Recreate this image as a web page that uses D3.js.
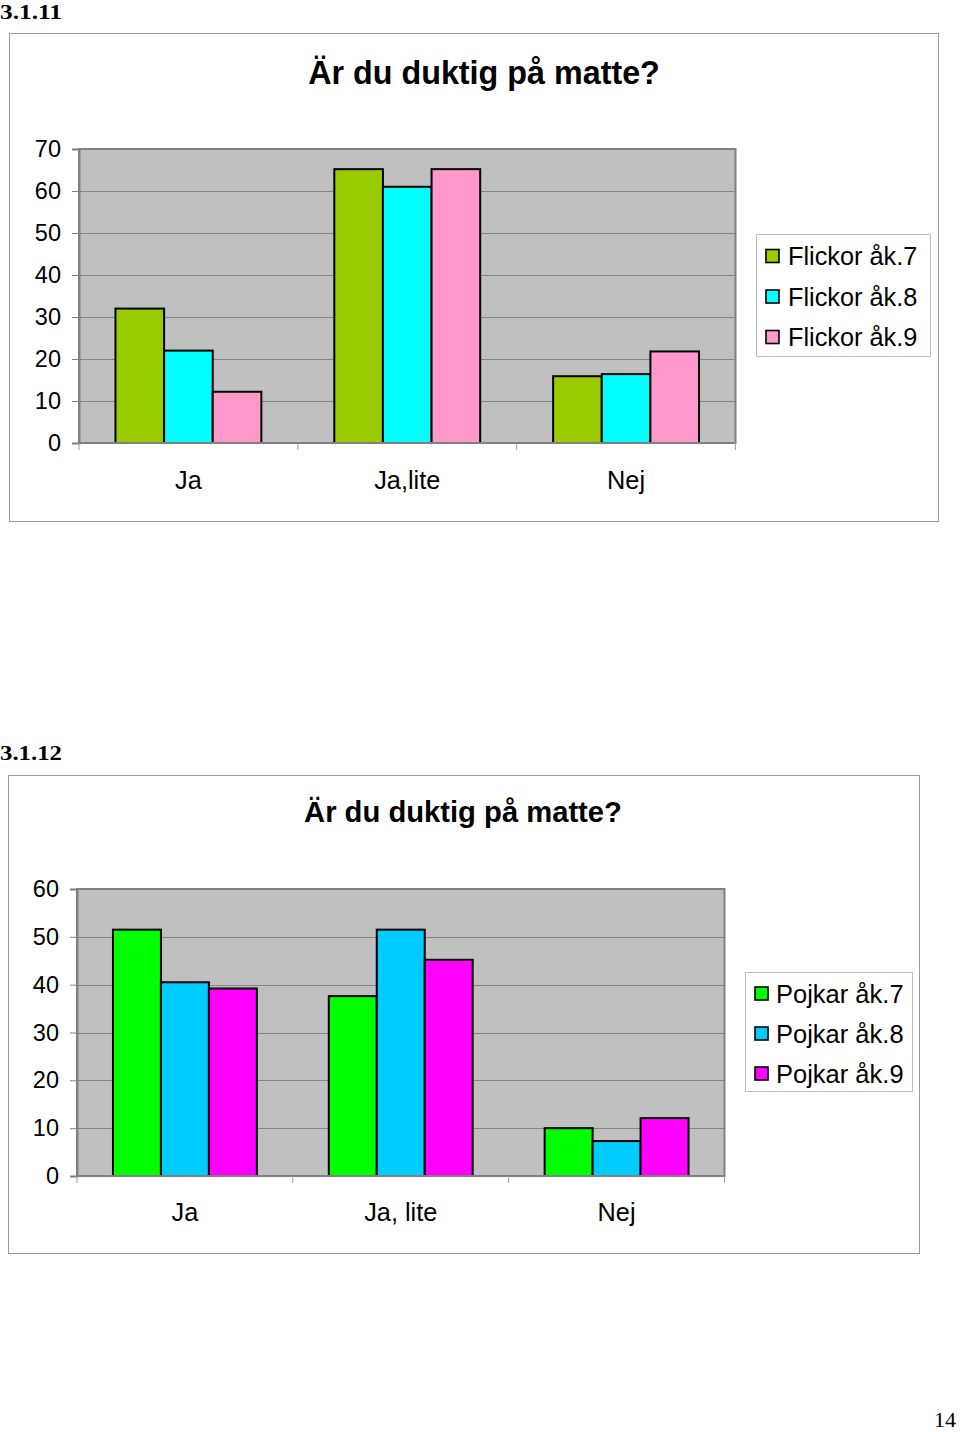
<!DOCTYPE html>
<html>
<head>
<meta charset="utf-8">
<script src="https://cdn.jsdelivr.net/npm/d3@7"></script>
<style>
  html, body { margin: 0; padding: 0; background: #fff; }
  svg { display: block; }
</style>
</head>
<body>
<svg id="page" width="960" height="1432"></svg>
<script>
// ---------- DATA ----------
const title = "Är du duktig på matte?";

const categories1 = ["Ja", "Ja,lite", "Nej"];
const series1Names = ["Flickor åk.7", "Flickor åk.8", "Flickor åk.9"];
const flickorAk7 = [32, 65.2, 15.9];
const flickorAk8 = [22, 61, 16.4];
const flickorAk9 = [12.2, 65.2, 21.8];
const yTicks1 = [0, 10, 20, 30, 40, 50, 60, 70];

const categories2 = ["Ja", "Ja, lite", "Nej"];
const series2Names = ["Pojkar åk.7", "Pojkar åk.8", "Pojkar åk.9"];
const pojkarAk7 = [51.5, 37.6, 10.0];
const pojkarAk8 = [40.5, 51.5, 7.3];
const pojkarAk9 = [39.2, 45.2, 12.1];
const yTicks2 = [0, 10, 20, 30, 40, 50, 60];

// ---------- DRAW ----------
const svg = d3.select("#page");

function drawChart(o) {
  const g = svg.append("g");
  // outer chart frame
  g.append("rect")
    .attr("x", o.box[0] + 0.5).attr("y", o.box[1] + 0.5)
    .attr("width", o.box[2] - o.box[0]).attr("height", o.box[3] - o.box[1])
    .attr("fill", "#fff").attr("stroke", "#9a9a9a").attr("stroke-width", 1);

  // title
  g.append("text")
    .attr("x", o.titleX).attr("y", o.titleY)
    .attr("text-anchor", "middle")
    .attr("font-family", "Liberation Sans, Arial, sans-serif")
    .attr("font-weight", "bold")
    .attr("font-size", o.titleSize)
    .attr("fill", "#000")
    .text(title);

  const y = d3.scaleLinear().domain([0, o.yMax]).range([o.plot[3], o.plot[1]]);
  const x = d3.scaleBand().domain(o.categories).range([o.plot[0], o.plot[2]]).padding(0);
  const bw = x.bandwidth();
  const xs = d3.scaleBand().domain(d3.range(o.series.length)).range([bw / 6, bw * 5 / 6]).padding(0);

  // plot background
  g.append("rect")
    .attr("x", o.plot[0]).attr("y", o.plot[1])
    .attr("width", o.plot[2] - o.plot[0]).attr("height", o.plot[3] - o.plot[1])
    .attr("fill", "#c0c0c0");

  // gridlines
  g.append("g").selectAll("line").data(o.yTicks.filter(t => t > 0 && t < o.yMax)).join("line")
    .attr("x1", o.plot[0]).attr("x2", o.plot[2])
    .attr("y1", d => Math.round(y(d)) + 0.5).attr("y2", d => Math.round(y(d)) + 0.5)
    .attr("stroke", "#858585").attr("stroke-width", 1);

  // plot border
  g.append("rect")
    .attr("x", o.plot[0]).attr("y", o.plot[1])
    .attr("width", o.plot[2] - o.plot[0]).attr("height", o.plot[3] - o.plot[1])
    .attr("fill", "none").attr("stroke", "#808080").attr("stroke-width", 2);

  // bars
  o.series.forEach((vals, si) => {
    g.append("g").selectAll("rect").data(vals).join("rect")
      .attr("x", (d, i) => x(o.categories[i]) + xs(si))
      .attr("y", d => y(d))
      .attr("width", xs.bandwidth())
      .attr("height", d => y(0) - y(d))
      .attr("fill", o.colors[si])
      .attr("stroke", "#000").attr("stroke-width", 2);
  });

  // y axis
  const yAxis = d3.axisLeft(y).tickValues(o.yTicks).tickSize(7).tickPadding(11).tickFormat(d3.format("d"));
  const ya = g.append("g").attr("transform", `translate(${o.plot[0]},0)`).call(yAxis);
  ya.select(".domain").attr("stroke", "#808080").attr("stroke-width", 2);
  ya.selectAll(".tick line").attr("stroke", "#808080");
  ya.selectAll(".tick text")
    .attr("font-family", "Liberation Sans, Arial, sans-serif")
    .attr("font-size", o.tickSize).attr("fill", "#000");

  // x axis with category boundary tick marks
  const bounds = o.categories.map(c => x(c)).concat([o.plot[2]]);
  g.append("line")
    .attr("x1", o.plot[0]).attr("x2", o.plot[2])
    .attr("y1", o.plot[3]).attr("y2", o.plot[3])
    .attr("stroke", "#808080").attr("stroke-width", 2);
  g.append("g").selectAll("line").data(bounds).join("line")
    .attr("x1", d => d).attr("x2", d => d)
    .attr("y1", o.plot[3]).attr("y2", o.plot[3] + 7)
    .attr("stroke", "#a0a0a0").attr("stroke-width", 1);
  g.append("g").selectAll("text").data(o.categories).join("text")
    .attr("x", d => x(d) + bw / 2)
    .attr("y", o.catY)
    .attr("text-anchor", "middle")
    .attr("font-family", "Liberation Sans, Arial, sans-serif")
    .attr("font-size", o.catSize).attr("fill", "#000")
    .text(d => d);

  // legend
  const L = o.legend;
  g.append("rect")
    .attr("x", L.box[0] + 0.5).attr("y", L.box[1] + 0.5)
    .attr("width", L.box[2] - L.box[0]).attr("height", L.box[3] - L.box[1])
    .attr("fill", "#fff").attr("stroke", "#bdbdbd").attr("stroke-width", 1);
  const li = g.append("g").selectAll("g").data(o.names).join("g")
    .attr("transform", (d, i) => `translate(${L.sx},${L.y0 + i * L.step})`);
  li.append("rect")
    .attr("x", 0).attr("y", -6.5).attr("width", 13).attr("height", 13)
    .attr("fill", (d, i) => o.colors[i]).attr("stroke", "#000").attr("stroke-width", 1.6);
  li.append("text")
    .attr("x", L.tx - L.sx).attr("y", 0).attr("dy", "0.36em")
    .attr("font-family", "Liberation Sans, Arial, sans-serif")
    .attr("font-size", o.legendSize).attr("fill", "#000")
    .text(d => d);
}

// section headers and page number
function serifText(x, y, txt, size, weight, anchor, len) {
  const t = svg.append("text").attr("x", x).attr("y", y)
    .attr("font-family", "Liberation Serif, Times New Roman, serif")
    .attr("font-size", size).attr("font-weight", weight)
    .attr("text-anchor", anchor || "start")
    .attr("fill", "#000").text(txt);
  if (len) t.attr("textLength", len).attr("lengthAdjust", "spacingAndGlyphs");
}
serifText(0, 19, "3.1.11", 20.5, "bold", "start", 62);
serifText(0, 760, "3.1.12", 20.5, "bold", "start", 62);
serifText(956, 1427, "14", 22, "normal", "end");

drawChart({
  box: [9, 33, 938, 521],
  plot: [79, 149, 735.5, 443],
  yMax: 70,
  yTicks: yTicks1,
  categories: categories1,
  series: [flickorAk7, flickorAk8, flickorAk9],
  names: series1Names,
  colors: ["#99cc00", "#00ffff", "#ff99cc"],
  titleX: 484, titleY: 84, titleSize: 32.3,
  tickSize: 23.5, catSize: 25.3, catY: 489,
  legendSize: 25.3,
  legend: { box: [756, 234, 930, 356], sx: 766, tx: 788, y0: 256, step: 40.5 }
});

drawChart({
  box: [8, 775, 919, 1253],
  plot: [77, 889, 724.5, 1176],
  yMax: 60,
  yTicks: yTicks2,
  categories: categories2,
  series: [pojkarAk7, pojkarAk8, pojkarAk9],
  names: series2Names,
  colors: ["#00ff00", "#00ccff", "#ff00ff"],
  titleX: 463, titleY: 822, titleSize: 29.2,
  tickSize: 23.5, catSize: 25.3, catY: 1221,
  legendSize: 25.5,
  legend: { box: [745, 972, 912, 1091], sx: 755, tx: 776, y0: 993.5, step: 40 }
});
</script>
</body>
</html>
